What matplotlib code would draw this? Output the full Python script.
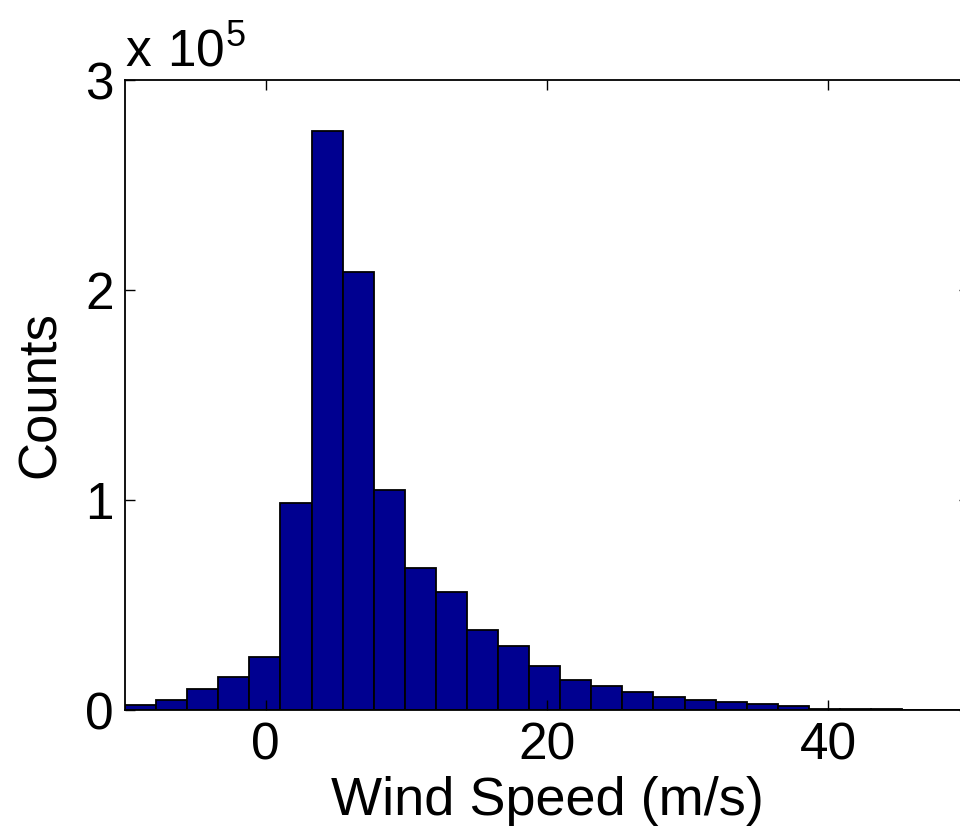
import numpy as np
import matplotlib
matplotlib.use('Agg')
import matplotlib.pyplot as plt
from matplotlib.ticker import FuncFormatter

# histogram of wind speed, bins start at -10 with fixed width
bin_start = -10.0
bin_width = 2.21
counts = [2300, 5000, 10000, 15500, 25200, 98400, 275500, 208700, 105000, 67800,
          56300, 38300, 30600, 21100, 14400, 11400, 8700, 6000, 4800, 3800,
          2900, 1900, 500, 350, 250, 150, 100, 80]
x_ticks = [0, 20, 40]
y_ticks = [0, 1e5, 2e5, 3e5]

plt.rcParams['font.family'] = ['Liberation Sans', 'DejaVu Sans']

fig = plt.figure(figsize=(9.6, 8.36), dpi=100)
ax = fig.add_axes([0.1302, 0.1507, 0.8792, 0.7536])

lefts = bin_start + bin_width * np.arange(len(counts))
ax.bar(lefts, counts, width=bin_width, align='edge', color='#000090',
       edgecolor='black', linewidth=1.3)

ax.set_xlim(-10, 50)
ax.set_ylim(0, 3e5)
ax.set_xticks(x_ticks)
ax.set_yticks(y_ticks)
ax.yaxis.set_major_formatter(FuncFormatter(lambda v, p: '%d' % round(v / 1e5)))
ax.tick_params(direction='in', length=7, width=1.0, labelsize=37,
               top=True, right=True, pad=8)
for s in ax.spines.values():
    s.set_linewidth(1.3)

ax.set_xlabel('Wind Speed (m/s)', fontsize=39, labelpad=4)
ax.set_ylabel('Counts', fontsize=38, labelpad=14)
ax.text(0.0, 1.003, r'$\mathregular{x\ 10^5}$', transform=ax.transAxes,
        fontsize=37, ha='left', va='bottom')

fig.savefig('out.png', dpi=100)
